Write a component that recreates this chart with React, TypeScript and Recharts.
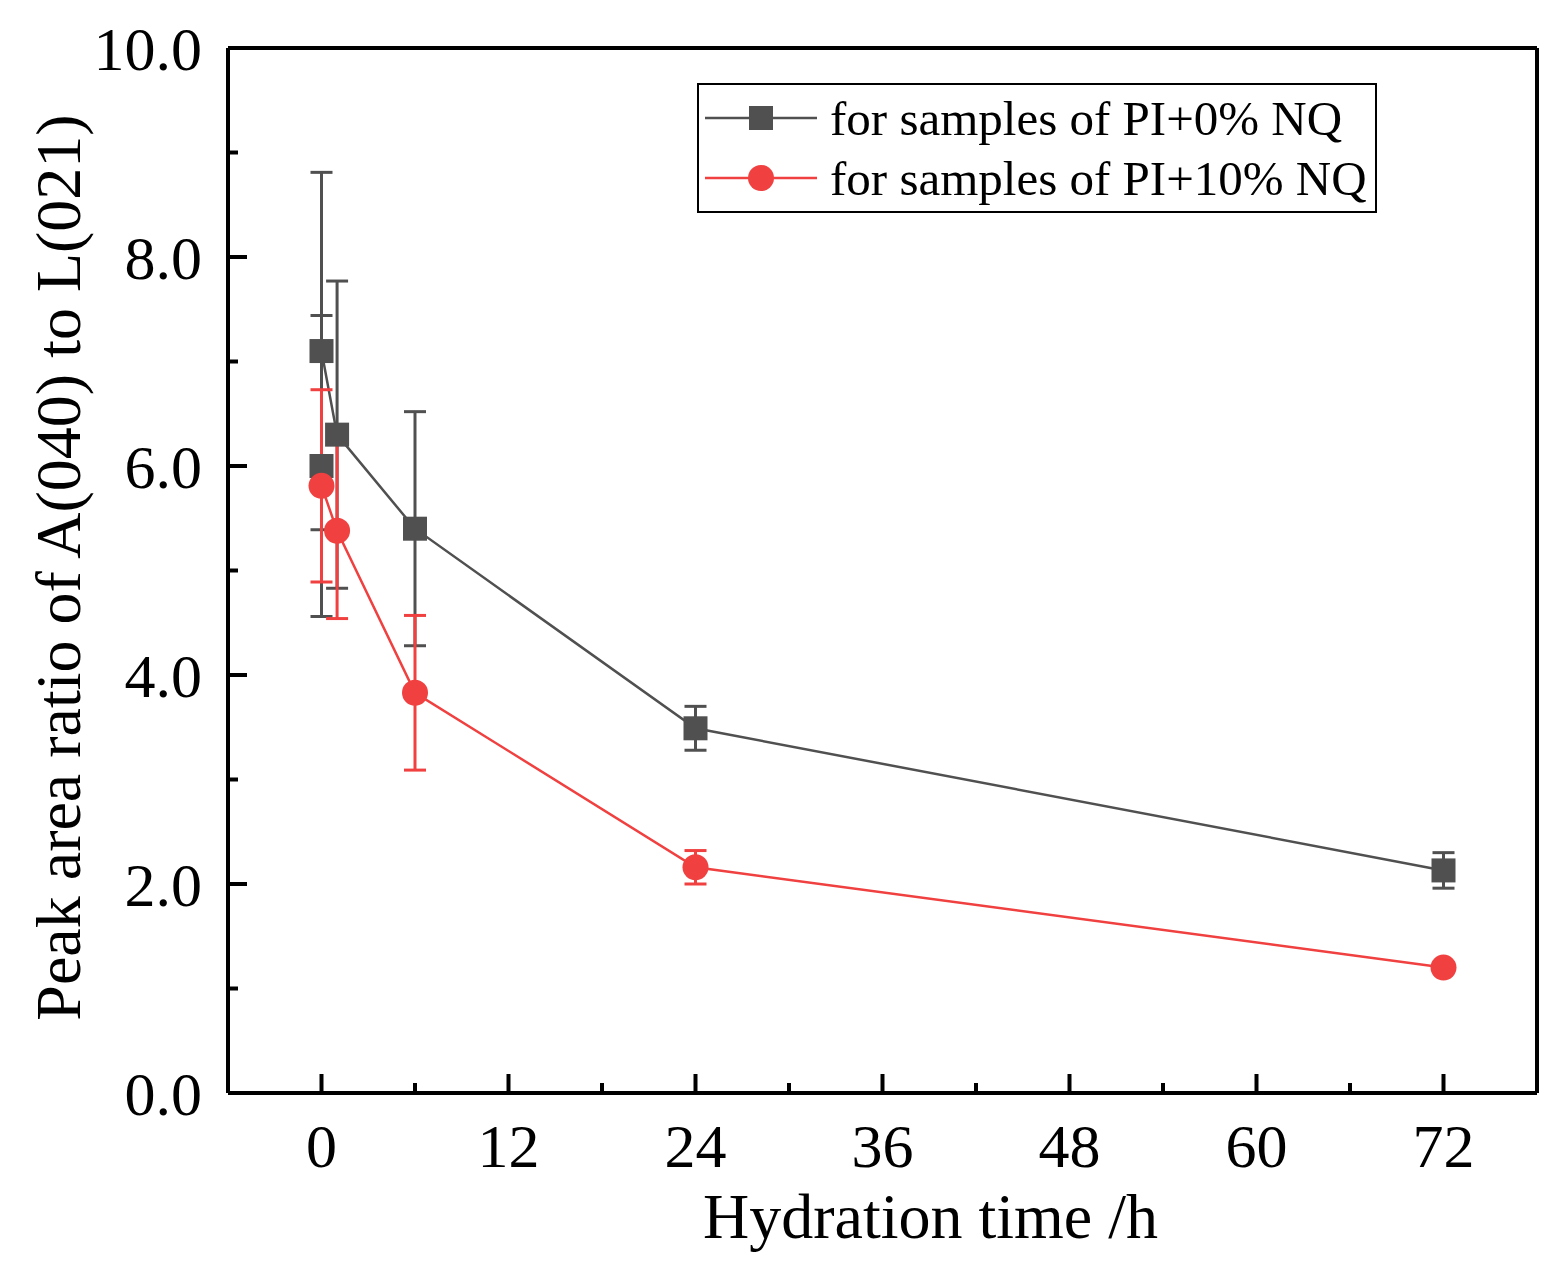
import { LineChart, Line, XAxis, YAxis, ErrorBar, ReferenceLine, Legend } from 'recharts';

const hours0 = [0, 0, 1, 6, 24, 72];
const ratio0 = [6.0, 7.1, 6.3, 5.4, 3.49, 2.13];
const err0 = [1.44, 1.71, 1.47, 1.12, 0.21, 0.17];

const hours10 = [0, 1, 6, 24, 72];
const ratio10 = [5.81, 5.38, 3.83, 2.16, 1.2];
const err10 = [0.92, 0.84, 0.74, 0.16, 0.04];

const xTicks = [0, 6, 12, 18, 24, 30, 36, 42, 48, 54, 60, 66, 72];
const yTicks = [0, 1, 2, 3, 4, 5, 6, 7, 8, 9, 10];

const GRAY = '#505050';
const RED = '#f04040';
const FONT = '"Liberation Serif", "Times New Roman", serif';

const serie0 = hours0.map((h, i) => ({ h, v: ratio0[i], e: err0[i] }));
const serie10 = hours10.map((h, i) => ({ h, v: ratio10[i], e: err10[i] }));

// ticks pointing into the plot, majors every 12 h / 2.0
function XTick({ x, y, payload }: any) {
  const major = payload.value % 12 === 0;
  return (
    <g>
      <line x1={x} y1={y} x2={x} y2={y - (major ? 19 : 10)} stroke="#000" strokeWidth={4} />
      {major && (
        <text x={x} y={y + 74} textAnchor="middle" fontFamily={FONT} fontSize={62} fill="#000">
          {payload.value}
        </text>
      )}
    </g>
  );
}

function YTick({ x, y, payload }: any) {
  const major = payload.value % 2 === 0;
  return (
    <g>
      <line x1={x} y1={y} x2={x + (major ? 19 : 10)} y2={y} stroke="#000" strokeWidth={4} />
      {major && (
        <text x={x - 26} y={y} dy="0.35em" textAnchor="end" fontFamily={FONT} fontSize={62} fill="#000">
          {payload.value.toFixed(1)}
        </text>
      )}
    </g>
  );
}

const Square = ({ cx, cy, index }: any) => (
  <rect key={index} x={cx - 12} y={cy - 12} width={24} height={24} fill={GRAY} />
);
const Circle = ({ cx, cy, index }: any) => <circle key={index} cx={cx} cy={cy} r={13} fill={RED} />;

function Leyenda() {
  const row = (color: string, mark: 'sq' | 'ci', label: string) => (
    <div style={{ display: 'flex', alignItems: 'center', height: 60 }}>
      <svg width={126} height={40}>
        <line x1={6} y1={20} x2={118} y2={20} stroke={color} strokeWidth={2.5} />
        {mark === 'sq' ? (
          <rect x={50} y={8} width={24} height={24} fill={color} />
        ) : (
          <circle cx={62} cy={20} r={13} fill={color} />
        )}
      </svg>
      <span style={{ fontFamily: FONT, fontSize: 49, marginLeft: 5, lineHeight: 1 }}>{label}</span>
    </div>
  );
  return (
    <div style={{ border: '2px solid #000', width: 676, height: 123, padding: '3px 0 0 0', boxSizing: 'content-box', background: '#fff' }}>
      {row(GRAY, 'sq', 'for samples of PI+0% NQ')}
      {row(RED, 'ci', 'for samples of PI+10% NQ')}
    </div>
  );
}

export default function App() {
  return (
    <LineChart width={1558} height={1263} margin={{ top: 40, right: 29, left: 0, bottom: 0 }}>
      <XAxis
        type="number"
        dataKey="h"
        domain={[-6, 78]}
        ticks={xTicks}
        height={178}
        tickSize={0}
        tickMargin={0}
        tickLine={false}
        axisLine={{ stroke: '#000', strokeWidth: 4 }}
        tick={<XTick />}
        label={{
          content: ({ viewBox }: any) => (
            <text x={viewBox.x + viewBox.width / 2 + 48} y={1230} textAnchor="middle" fontFamily={FONT} fontSize={64} fill="#000">
              Hydration time /h
            </text>
          ),
        }}
      />
      <YAxis
        type="number"
        domain={[0, 10]}
        ticks={yTicks}
        width={220}
        tickSize={0}
        tickMargin={0}
        tickLine={false}
        axisLine={{ stroke: '#000', strokeWidth: 4 }}
        tick={<YTick />}
        label={{
          content: ({ viewBox }: any) => {
            const cy = viewBox.y + viewBox.height / 2 - 3;
            return (
              <text x={72} y={cy} transform={`rotate(-90 72 ${cy})`} textAnchor="middle" fontFamily={FONT} fontSize={64} fill="#000">
                Peak area ratio of A(040) to L(021)
              </text>
            );
          },
        }}
      />
      <ReferenceLine y={10} stroke="#000" strokeWidth={4} />
      <ReferenceLine x={78} stroke="#000" strokeWidth={4} />
      <Line
        data={serie0}
        dataKey="v"
        stroke={GRAY}
        strokeWidth={2.5}
        dot={<Square />}
        activeDot={false}
        isAnimationActive={false}
      >
        <ErrorBar dataKey="e" width={11} strokeWidth={3} stroke={GRAY} direction="y" />
      </Line>
      <Line
        data={serie10}
        dataKey="v"
        stroke={RED}
        strokeWidth={2.5}
        dot={<Circle />}
        activeDot={false}
        isAnimationActive={false}
      >
        <ErrorBar dataKey="e" width={11} strokeWidth={3} stroke={RED} direction="y" />
      </Line>
      <Legend
        verticalAlign="middle"
        align="center"
        layout="horizontal"
        content={<Leyenda />}
        wrapperStyle={{ left: 689, top: 75, width: 680 }}
      />
    </LineChart>
  );
}
